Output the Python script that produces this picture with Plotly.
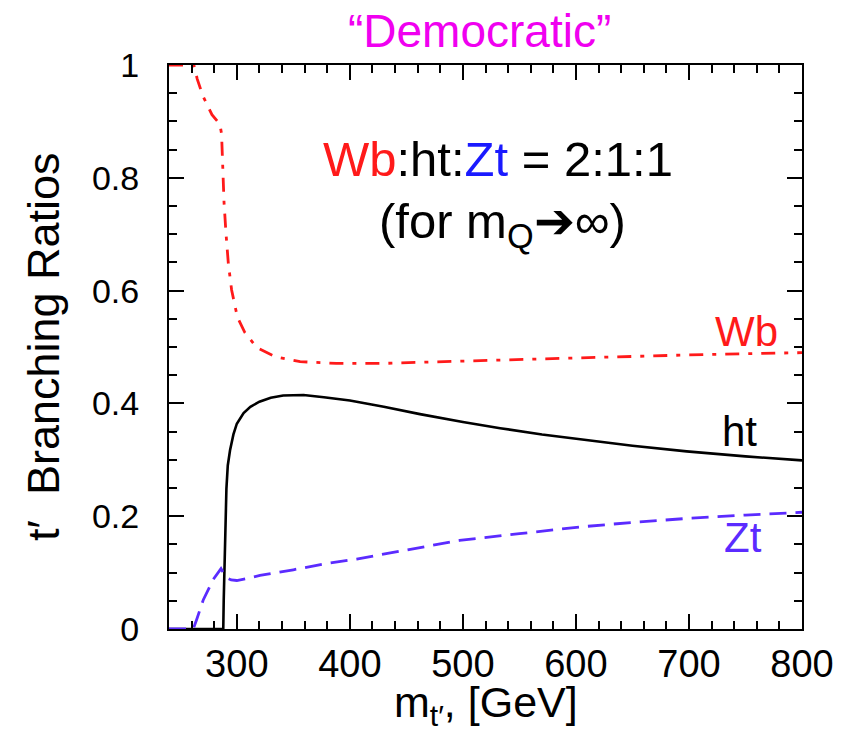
import plotly.graph_objects as go

# ---- data ----
wb_x = [240, 262, 265, 270, 278, 285, 286.5, 287.5, 288.7, 290.4, 292.5, 295.4, 300.5, 307, 317.6, 335, 356, 388, 430, 500, 600, 700, 800]
wb_y = [1.0, 1.0, 0.975, 0.945, 0.912, 0.895, 0.878, 0.824, 0.756, 0.702, 0.648, 0.601, 0.553, 0.526, 0.499, 0.482, 0.474, 0.471, 0.471, 0.475, 0.481, 0.486, 0.490]

ht_x = [240, 288, 288.4, 288.9, 289.4, 290.0, 290.8, 292, 294, 297, 300, 306, 312, 320, 330, 341, 359, 377, 400, 430, 462, 500, 533, 570, 600, 650, 698, 750, 800]
ht_y = [0.0, 0.0, 0.05, 0.1, 0.147, 0.2, 0.249, 0.29, 0.317, 0.345, 0.364, 0.383, 0.394, 0.403, 0.410, 0.414, 0.415, 0.411, 0.405, 0.394, 0.381, 0.367, 0.356, 0.345, 0.337, 0.325, 0.315, 0.306, 0.299]

zt_x = [240, 261.5, 264.5, 270.4, 279.2, 286, 288, 291, 295, 300, 310, 320.5, 350, 379.5, 406, 450, 497, 550, 604, 650, 698, 750, 800]
zt_y = [0.0, 0.0, 0.017, 0.052, 0.088, 0.107, 0.100, 0.091, 0.087, 0.086, 0.090, 0.095, 0.105, 0.116, 0.124, 0.140, 0.157, 0.169, 0.181, 0.189, 0.196, 0.202, 0.207]

x_ticks = [300, 400, 500, 600, 700, 800]
y_ticks = [0, 0.2, 0.4, 0.6, 0.8, 1]
y_tick_text = ["0", "0.2", "0.4", "0.6", "0.8", "1"]

RED = "#ff1a1a"
BLUE = "#5b2bff"
FONT = "Liberation Sans, Arial, sans-serif"

fig = go.Figure()
fig.add_trace(go.Scatter(x=wb_x, y=wb_y, mode="lines",
                         line=dict(color=RED, width=2.8, dash="14px,9px,4px,9px"),
                         showlegend=False))
fig.add_trace(go.Scatter(x=ht_x, y=ht_y, mode="lines",
                         line=dict(color="black", width=2.6),
                         showlegend=False))
fig.add_trace(go.Scatter(x=zt_x, y=zt_y, mode="lines",
                         line=dict(color=BLUE, width=2.8, dash="17px,9px"),
                         showlegend=False))

axis_common = dict(
    showline=True, linecolor="black", linewidth=2, mirror="ticks",
    ticks="inside", ticklen=15, tickwidth=2.2, tickcolor="black",
    showgrid=False, zeroline=False,
)

fig.update_xaxes(range=[240, 800], tickvals=x_ticks,
                 tickfont=dict(family=FONT, size=38, color="black"),
                 minor=dict(dtick=20, ticks="inside", ticklen=8, tickwidth=2, tickcolor="black", showgrid=False),
                 ticklabelstandoff=0,
                 **axis_common)
fig.update_yaxes(range=[0, 1], tickvals=y_ticks, ticktext=y_tick_text,
                 tickfont=dict(family=FONT, size=34, color="black"),
                 minor=dict(dtick=0.05, ticks="inside", ticklen=8, tickwidth=2, tickcolor="black", showgrid=False),
                 ticklabelstandoff=21,
                 **axis_common)

annotations = [
    dict(text="“Democratic”", xref="paper", yref="paper", x=0.49, y=1.06,
         xanchor="center", yanchor="middle", showarrow=False,
         font=dict(family=FONT, size=46, color="#f000f0")),
    dict(text=f'<span style="color:{RED}">Wb</span>:ht:<span style="color:#1a1aff">Zt</span> = 2:1:1',
         x=531, y=0.833, xref="x", yref="y", xanchor="center", yanchor="middle",
         showarrow=False, font=dict(family=FONT, size=49, color="black")),
    dict(text="(for m<sub>Q</sub>➔∞)",
         x=535, y=0.717, xref="x", yref="y", xanchor="center", yanchor="middle",
         showarrow=False, font=dict(family=FONT, size=49, color="black")),
    dict(text="Wb", x=751, y=0.527, xref="x", yref="y", xanchor="center", yanchor="middle",
         showarrow=False, font=dict(family=FONT, size=42, color=RED)),
    dict(text="ht", x=745, y=0.350, xref="x", yref="y", xanchor="center", yanchor="middle",
         showarrow=False, font=dict(family=FONT, size=42, color="black")),
    dict(text="Zt", x=748, y=0.162, xref="x", yref="y", xanchor="center", yanchor="middle",
         showarrow=False, font=dict(family=FONT, size=42, color=BLUE)),
    dict(text="t′  Branching Ratios", xref="paper", yref="paper", x=-0.199, y=0.5,
         xanchor="center", yanchor="middle", textangle=-90, showarrow=False,
         font=dict(family=FONT, size=45, color="black")),
    dict(text="m<sub>t′</sub>, [GeV]", xref="paper", yref="paper", x=0.5, y=-0.135,
         xanchor="center", yanchor="middle", showarrow=False,
         font=dict(family=FONT, size=43, color="black")),
]

# the page body adds an 8px offset; plot area in window: x 169-802, y 64.5-629.5
fig.update_layout(
    width=859, height=738,
    margin=dict(l=161, r=65, t=56.5, b=116.5, autoexpand=False),
    paper_bgcolor="white", plot_bgcolor="white",
    annotations=annotations,
    showlegend=False,
)

fig.write_html("out.html")
